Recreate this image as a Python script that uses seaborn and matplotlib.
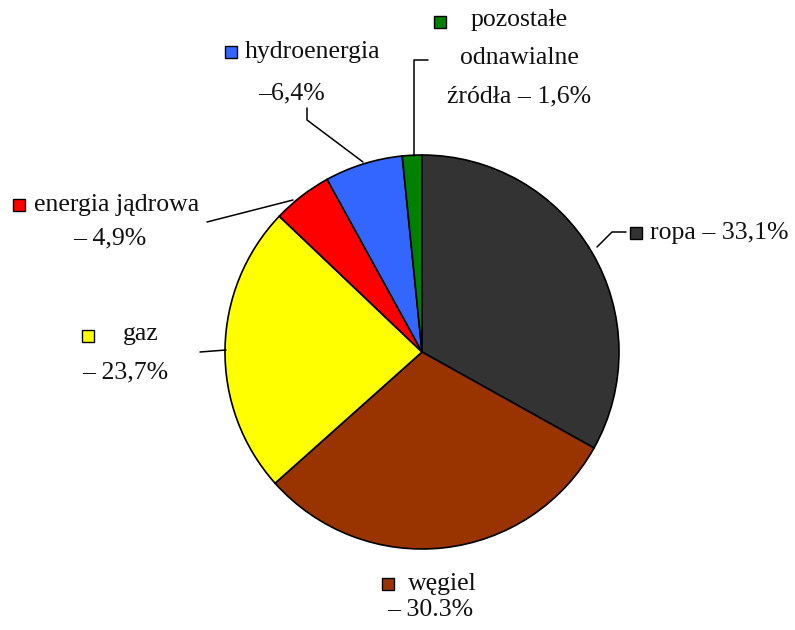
import matplotlib
matplotlib.use("Agg")
import matplotlib.pyplot as plt
import seaborn as sns
import numpy as np

sns.set_theme(style="white")
plt.rcParams['font.family'] = ['Liberation Serif', 'DejaVu Serif']

categories = ["ropa", "węgiel", "gaz", "energia jądrowa", "hydroenergia", "pozostałe odnawialne źródła"]
values = [33.1, 30.3, 23.7, 4.9, 6.4, 1.6]
colors = ["#333333", "#993300", "#FFFF00", "#FF0000", "#3366FF", "#008000"]
label_lines = [
    ["ropa – 33,1%"],
    ["węgiel", "– 30.3%"],
    ["gaz", "– 23,7%"],
    ["energia jądrowa", "– 4,9%"],
    ["hydroenergia", "–6,4%"],
    ["pozostałe", "odnawialne", "źródła – 1,6%"],
]

W, H = 795, 630
fig = plt.figure(figsize=(W / 100, H / 100), dpi=100)
ax = fig.add_axes([0, 0, 1, 1])
ax.set_xlim(0, W)
ax.set_ylim(0, H)
ax.set_aspect("equal")
ax.axis("off")

def Y(y):
    return H - y

cx, cy, r = 422, 352, 197
ax.pie(values, colors=colors, startangle=90, counterclock=False,
       center=(cx, Y(cy)), radius=r,
       wedgeprops=dict(edgecolor="black", linewidth=1.2))
ax.set_xlim(0, W)
ax.set_ylim(0, H)

fs = 18.5
# leader lines (image pixel coords)
leaders = [
    [(597, 247), (612, 232), (626, 232)],        # ropa
    None,                                         # węgiel
    [(226, 350), (200, 352)],                     # gaz
    [(293, 200), (207, 222)],                     # energia jądrowa
    [(363, 162), (307, 120), (307, 108)],         # hydroenergia
    [(414, 156), (414, 60), (428, 60)],           # pozostałe
]
for pts in leaders:
    if pts:
        xs = [p[0] for p in pts]
        ys = [Y(p[1]) for p in pts]
        ax.plot(xs, ys, color="black", lw=1.1)

# label layouts: (square position), list of (x, y, ha) for lines
layouts = [
    ((636, 233), [(650, 233, "left")]),
    ((388, 584), [(442, 584, "center"), (430, 610, "center")]),
    ((88, 336), [(141, 334, "center"), (125, 372, "center")]),
    ((19, 205), [(34, 205, "left"), (110, 238, "center")]),
    ((231, 52), [(245, 52, "left"), (292, 93, "center")]),
    ((440, 22), [(519, 20, "center"), (519, 58, "center"), (519, 96, "center")]),
]
sq = 12
for (sqpos, lines), col, txts in zip(layouts, colors, label_lines):
    sx, sy = sqpos
    ax.add_patch(plt.Rectangle((sx - sq / 2, Y(sy) - sq / 2), sq, sq,
                               facecolor=col, edgecolor="black", lw=1.0))
    for (tx, ty, ha), t in zip(lines, txts):
        ax.text(tx, Y(ty), t, ha=ha, va="center", fontsize=fs, color="#111111")

fig.savefig("out.png", dpi=100)
